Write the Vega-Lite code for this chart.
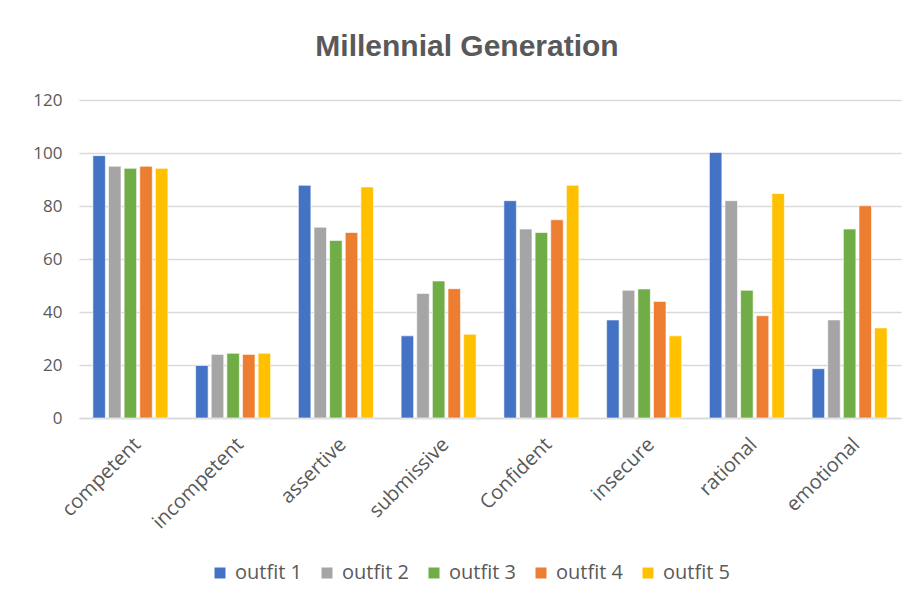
{
  "$schema": "https://vega.github.io/schema/vega-lite/v6.json",
  "width": 822,
  "height": 318,
  "autosize": {"type": "none"},
  "padding": {"left": 79, "top": 100, "right": 15, "bottom": 187},
  "background": "white",
  "title": {
    "text": "Millennial Generation",
    "font": "Liberation Sans",
    "fontSize": 30,
    "fontWeight": "bold",
    "color": "#595959",
    "anchor": "middle",
    "dx": -23,
    "offset": 29
  },
  "data": {
    "values": [
      {"trait": "competent", "outfit": "outfit 1", "value": 99},
      {"trait": "competent", "outfit": "outfit 2", "value": 95},
      {"trait": "competent", "outfit": "outfit 3", "value": 94.2},
      {"trait": "competent", "outfit": "outfit 4", "value": 95},
      {"trait": "competent", "outfit": "outfit 5", "value": 94.2},
      {"trait": "incompetent", "outfit": "outfit 1", "value": 19.8},
      {"trait": "incompetent", "outfit": "outfit 2", "value": 24},
      {"trait": "incompetent", "outfit": "outfit 3", "value": 24.4},
      {"trait": "incompetent", "outfit": "outfit 4", "value": 24},
      {"trait": "incompetent", "outfit": "outfit 5", "value": 24.4},
      {"trait": "assertive", "outfit": "outfit 1", "value": 87.8},
      {"trait": "assertive", "outfit": "outfit 2", "value": 72},
      {"trait": "assertive", "outfit": "outfit 3", "value": 67},
      {"trait": "assertive", "outfit": "outfit 4", "value": 70},
      {"trait": "assertive", "outfit": "outfit 5", "value": 87.2},
      {"trait": "submissive", "outfit": "outfit 1", "value": 31},
      {"trait": "submissive", "outfit": "outfit 2", "value": 47},
      {"trait": "submissive", "outfit": "outfit 3", "value": 51.7},
      {"trait": "submissive", "outfit": "outfit 4", "value": 48.8},
      {"trait": "submissive", "outfit": "outfit 5", "value": 31.6},
      {"trait": "Confident", "outfit": "outfit 1", "value": 82},
      {"trait": "Confident", "outfit": "outfit 2", "value": 71.3},
      {"trait": "Confident", "outfit": "outfit 3", "value": 70},
      {"trait": "Confident", "outfit": "outfit 4", "value": 74.8},
      {"trait": "Confident", "outfit": "outfit 5", "value": 87.8},
      {"trait": "insecure", "outfit": "outfit 1", "value": 37},
      {"trait": "insecure", "outfit": "outfit 2", "value": 48.2},
      {"trait": "insecure", "outfit": "outfit 3", "value": 48.7},
      {"trait": "insecure", "outfit": "outfit 4", "value": 44},
      {"trait": "insecure", "outfit": "outfit 5", "value": 31},
      {"trait": "rational", "outfit": "outfit 1", "value": 100.2},
      {"trait": "rational", "outfit": "outfit 2", "value": 82},
      {"trait": "rational", "outfit": "outfit 3", "value": 48.2},
      {"trait": "rational", "outfit": "outfit 4", "value": 38.6},
      {"trait": "rational", "outfit": "outfit 5", "value": 84.7},
      {"trait": "emotional", "outfit": "outfit 1", "value": 18.6},
      {"trait": "emotional", "outfit": "outfit 2", "value": 37},
      {"trait": "emotional", "outfit": "outfit 3", "value": 71.3},
      {"trait": "emotional", "outfit": "outfit 4", "value": 80.1},
      {"trait": "emotional", "outfit": "outfit 5", "value": 34}
    ]
  },
  "mark": {"type": "bar", "stroke": "white", "strokeWidth": 0.6},
  "encoding": {
    "x": {
      "field": "trait",
      "type": "nominal",
      "sort": null,
      "title": null,
      "scale": {"paddingInner": 0.27, "paddingOuter": 0.135},
      "axis": {
        "labelAngle": -45,
        "labelFont": "Open Sans",
        "labelFontSize": 20,
        "labelColor": "#595959",
        "labelPadding": 16,
        "labelOverlap": false,
        "ticks": false,
        "domainColor": "#d9d9d9",
        "domainWidth": 1.5
      }
    },
    "xOffset": {
      "field": "outfit",
      "type": "nominal",
      "scale": {"paddingInner": 0.2, "paddingOuter": 0}
    },
    "y": {
      "field": "value",
      "type": "quantitative",
      "title": null,
      "scale": {"domain": [0, 120]},
      "axis": {
        "values": [0, 20, 40, 60, 80, 100, 120],
        "labelFont": "Open Sans",
        "labelFontSize": 17,
        "labelColor": "#595959",
        "labelPadding": 17,
        "ticks": false,
        "domain": false,
        "gridColor": "#d9d9d9",
        "gridWidth": 1.5
      }
    },
    "color": {
      "field": "outfit",
      "type": "nominal",
      "title": null,
      "scale": {
        "domain": ["outfit 1", "outfit 2", "outfit 3", "outfit 4", "outfit 5"],
        "range": ["#4472C4", "#A5A5A5", "#70AD47", "#ED7D31", "#FFC000"]
      },
      "legend": {
        "orient": "none",
        "direction": "horizontal",
        "legendX": 131,
        "legendY": 463,
        "symbolType": "square",
        "symbolSize": 121,
        "symbolStrokeWidth": 0,
        "labelFont": "Open Sans",
        "labelFontSize": 20,
        "labelColor": "#595959",
        "labelOffset": 5,
        "columnPadding": 15
      }
    }
  },
  "config": {"view": {"stroke": null}}
}
